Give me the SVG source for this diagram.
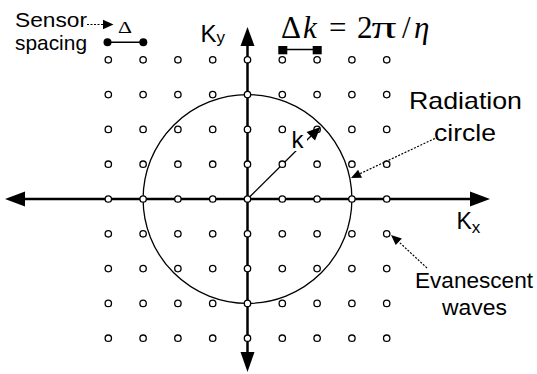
<svg xmlns="http://www.w3.org/2000/svg" width="537" height="374" viewBox="0 0 537 374">
<style>
.sans{font-family:"Liberation Sans",Arial,sans-serif;fill:#000}
.serif{font-family:"Liberation Serif","Times New Roman",serif;fill:#000}
.axis{stroke:#000;stroke-width:2.5;fill:none}
.thin{stroke:#000;stroke-width:1.3;fill:none}
.dot{fill:#fff;stroke:#000;stroke-width:1.3}
.dash{stroke:#000;stroke-width:1.2;stroke-dasharray:2,1.5;fill:none}
.head{fill:#000;stroke:none}
</style>
<defs>
<circle id="d" r="3.2" class="dot"/>
</defs>
<rect width="537" height="374" fill="#fff"/>
<g id="connectors">
<line class="axis" x1="24" y1="199" x2="471" y2="199"/>
<polygon class="head" points="5,199 25,191.5 25,206.5"/>
<polygon class="head" points="490,199 470,191.5 470,206.5"/>
<line class="axis" x1="247.5" y1="45" x2="247.5" y2="353"/>
<polygon class="head" points="247.5,27 240.5,46 254.5,46"/>
<polygon class="head" points="247.5,372 240.5,352 254.5,352"/>
<circle id="radiation-circle" class="thin" cx="247.5" cy="199" r="104.4"/>
<line class="thin" x1="247.5" y1="199" x2="311" y2="136"/>
<line class="dash" x1="87" y1="24.5" x2="104" y2="24.5"/>
<polygon class="head" points="113.5,24.5 103,19.8 103,29.2"/>
<line class="dash" x1="438" y1="137" x2="360" y2="173.7"/>
<polygon class="head" points="351,178 362,177.8 358.1,169.7"/>
<line class="dash" x1="427" y1="268" x2="398.8" y2="241.8"/>
<polygon class="head" points="391,235 401.9,238.5 395.7,245.1"/>
</g>
<g id="grid">
<use href="#d" x="108.3" y="59.8"/><use href="#d" x="143.1" y="59.8"/><use href="#d" x="177.9" y="59.8"/><use href="#d" x="212.7" y="59.8"/><use href="#d" x="247.5" y="59.8"/><use href="#d" x="282.3" y="59.8"/><use href="#d" x="317.1" y="59.8"/><use href="#d" x="351.9" y="59.8"/><use href="#d" x="386.7" y="59.8"/>
<use href="#d" x="108.3" y="94.6"/><use href="#d" x="143.1" y="94.6"/><use href="#d" x="177.9" y="94.6"/><use href="#d" x="212.7" y="94.6"/><use href="#d" x="247.5" y="94.6"/><use href="#d" x="282.3" y="94.6"/><use href="#d" x="317.1" y="94.6"/><use href="#d" x="351.9" y="94.6"/><use href="#d" x="386.7" y="94.6"/>
<use href="#d" x="108.3" y="129.4"/><use href="#d" x="143.1" y="129.4"/><use href="#d" x="177.9" y="129.4"/><use href="#d" x="212.7" y="129.4"/><use href="#d" x="247.5" y="129.4"/><use href="#d" x="282.3" y="129.4"/><use href="#d" x="317.1" y="129.4"/><use href="#d" x="351.9" y="129.4"/><use href="#d" x="386.7" y="129.4"/>
<use href="#d" x="108.3" y="164.2"/><use href="#d" x="143.1" y="164.2"/><use href="#d" x="177.9" y="164.2"/><use href="#d" x="212.7" y="164.2"/><use href="#d" x="247.5" y="164.2"/><use href="#d" x="282.3" y="164.2"/><use href="#d" x="317.1" y="164.2"/><use href="#d" x="351.9" y="164.2"/><use href="#d" x="386.7" y="164.2"/>
<use href="#d" x="108.3" y="199"/><use href="#d" x="143.1" y="199"/><use href="#d" x="177.9" y="199"/><use href="#d" x="212.7" y="199"/><use href="#d" x="247.5" y="199"/><use href="#d" x="282.3" y="199"/><use href="#d" x="317.1" y="199"/><use href="#d" x="351.9" y="199"/><use href="#d" x="386.7" y="199"/>
<use href="#d" x="108.3" y="233.8"/><use href="#d" x="143.1" y="233.8"/><use href="#d" x="177.9" y="233.8"/><use href="#d" x="212.7" y="233.8"/><use href="#d" x="247.5" y="233.8"/><use href="#d" x="282.3" y="233.8"/><use href="#d" x="317.1" y="233.8"/><use href="#d" x="351.9" y="233.8"/><use href="#d" x="386.7" y="233.8"/>
<use href="#d" x="108.3" y="268.6"/><use href="#d" x="143.1" y="268.6"/><use href="#d" x="177.9" y="268.6"/><use href="#d" x="212.7" y="268.6"/><use href="#d" x="247.5" y="268.6"/><use href="#d" x="282.3" y="268.6"/><use href="#d" x="317.1" y="268.6"/><use href="#d" x="351.9" y="268.6"/><use href="#d" x="386.7" y="268.6"/>
<use href="#d" x="108.3" y="303.4"/><use href="#d" x="143.1" y="303.4"/><use href="#d" x="177.9" y="303.4"/><use href="#d" x="212.7" y="303.4"/><use href="#d" x="247.5" y="303.4"/><use href="#d" x="282.3" y="303.4"/><use href="#d" x="317.1" y="303.4"/><use href="#d" x="351.9" y="303.4"/><use href="#d" x="386.7" y="303.4"/>
<use href="#d" x="108.3" y="338.2"/><use href="#d" x="143.1" y="338.2"/><use href="#d" x="177.9" y="338.2"/><use href="#d" x="212.7" y="338.2"/><use href="#d" x="247.5" y="338.2"/><use href="#d" x="282.3" y="338.2"/><use href="#d" x="317.1" y="338.2"/><use href="#d" x="351.9" y="338.2"/><use href="#d" x="386.7" y="338.2"/>
</g>
<g id="k-vector">
<rect x="289" y="130" width="18" height="21" fill="#fff"/>
<polygon class="head" points="320.5,127 306.6,132 315,140.4"/>
<text class="sans" x="291.5" y="148" font-size="24">k</text>
</g>
<g id="sensor-spacing">
<text class="sans" x="15" y="27.3" font-size="21" textLength="72" lengthAdjust="spacingAndGlyphs">Sensor</text>
<text class="sans" x="15" y="50" font-size="21" textLength="72" lengthAdjust="spacingAndGlyphs">spacing</text>
<text class="serif" x="118" y="33" font-size="16" textLength="14" lengthAdjust="spacingAndGlyphs">Δ</text>
<line stroke="#000" stroke-width="1.6" x1="107.5" y1="42.3" x2="143.3" y2="42.3"/>
<circle cx="107.5" cy="42.3" r="4" fill="#000"/>
<circle cx="143.3" cy="42.3" r="4" fill="#000"/>
</g>
<g id="delta-k">
<text class="serif" x="281" y="38" font-size="31" textLength="20" lengthAdjust="spacingAndGlyphs">Δ</text>
<text class="serif" x="303" y="38" font-size="31" font-style="italic">k</text>
<text class="serif" x="329" y="38" font-size="31">=</text>
<text class="serif" x="357" y="38" font-size="31">2</text>
<text class="serif" x="371.5" y="38" font-size="31" textLength="25" lengthAdjust="spacingAndGlyphs">π</text>
<text class="serif" x="402" y="38" font-size="31">/</text>
<text class="serif" x="414" y="38" font-size="31" font-style="italic">η</text>
<line stroke="#000" stroke-width="1.6" x1="282.8" y1="49.5" x2="317.2" y2="49.5"/>
<rect x="278.3" y="46" width="9" height="8.3" fill="#000"/>
<rect x="312.7" y="46" width="9" height="8.3" fill="#000"/>
</g>
<g id="ky-label">
<text class="sans" x="200.5" y="41.7" font-size="24">K<tspan font-size="17" dy="1.3">y</tspan></text>
</g>
<g id="kx-label">
<text class="sans" x="456.5" y="229.3" font-size="23">K<tspan font-size="17" dy="3.5">x</tspan></text>
</g>
<g id="radiation-label">
<text class="sans" x="409" y="109" font-size="24" textLength="113" lengthAdjust="spacingAndGlyphs">Radiation</text>
<text class="sans" x="434" y="140.5" font-size="24" textLength="62" lengthAdjust="spacingAndGlyphs">circle</text>
</g>
<g id="evanescent-label">
<text class="sans" x="415" y="288" font-size="22" textLength="118" lengthAdjust="spacingAndGlyphs">Evanescent</text>
<text class="sans" x="442" y="315" font-size="22" textLength="65" lengthAdjust="spacingAndGlyphs">waves</text>
</g>
</svg>
